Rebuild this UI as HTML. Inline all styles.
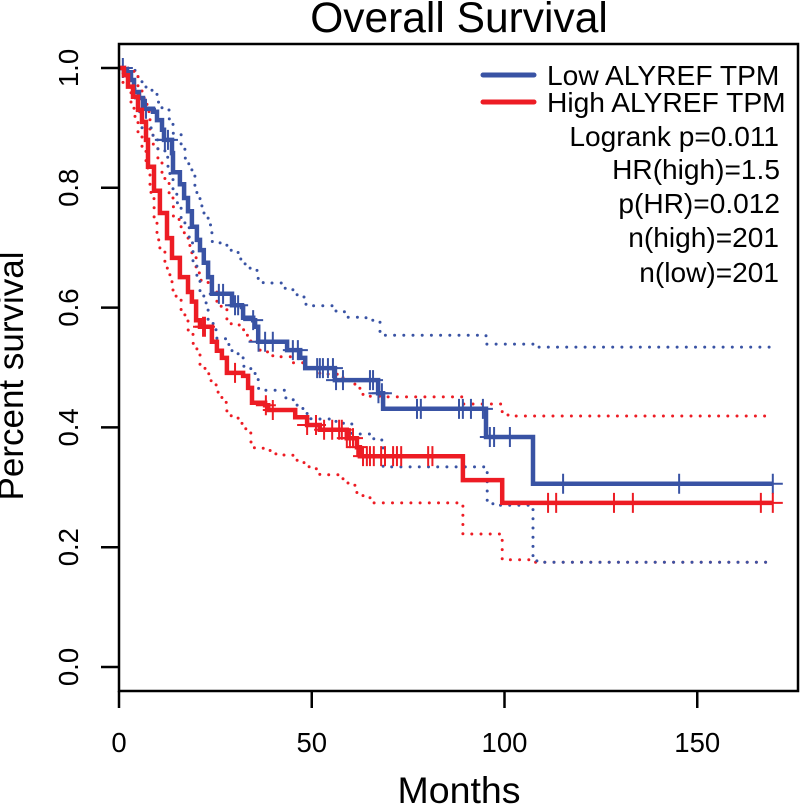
<!DOCTYPE html>
<html>
<head>
<meta charset="utf-8">
<style>
html,body{margin:0;padding:0;background:#fff;}
svg{display:block;}
text{font-family:"Liberation Sans",sans-serif;fill:#000;}
</style>
</head>
<body>
<svg id="chart" width="800" height="804" viewBox="0 0 800 804" xmlns="http://www.w3.org/2000/svg">
<rect x="0" y="0" width="800" height="804" fill="#fff"/>
<text x="459" y="32" font-size="42.5" text-anchor="middle">Overall Survival</text>
<text x="459" y="803" font-size="37.5" text-anchor="middle">Months</text>
<text transform="translate(23,376) rotate(-90)" font-size="35" text-anchor="middle">Percent survival</text>
<g id="marks"></g>
<g id="axes"></g>
<g>
<line x1="483" y1="75" x2="534" y2="75" stroke="#3953a4" stroke-width="5" stroke-linecap="round"/>
<line x1="483" y1="102" x2="534" y2="102" stroke="#ed1c24" stroke-width="5" stroke-linecap="round"/>
<text x="547" y="85" font-size="28.2">Low ALYREF TPM</text>
<text x="547" y="112" font-size="28.2">High ALYREF TPM</text>
<text x="779" y="146" font-size="28.1" text-anchor="end">Logrank p=0.011</text>
<text x="780" y="179" font-size="28.1" text-anchor="end">HR(high)=1.5</text>
<text x="780" y="213" font-size="28.1" text-anchor="end">p(HR)=0.012</text>
<text x="779" y="247" font-size="28.1" text-anchor="end">n(high)=201</text>
<text x="779" y="282" font-size="28.1" text-anchor="end">n(low)=201</text>
</g>
</svg>
<script>
const xTicks = [0, 50, 100, 150];
const yTicks = ["0.0", "0.2", "0.4", "0.6", "0.8", "1.0"];

const lowMonths = [0,1.3,2.08,3.11,3.89,5.19,6.23,8.82,9.86,11.15,11.67,13.75,14,15.8,16.9,17.9,18.9,20.2,21,22,23.1,24.1,29.3,31.9,32.2,34.8,35.3,36.1,43.6,47,48.3,56,67.2,68.5,95.2,107.4,169.6];
const lowSurvival = [1,.997,.993,.98,.96,.95,.932,.927,.913,.897,.88,.858,.826,.806,.783,.761,.735,.713,.696,.675,.651,.623,.604,.601,.583,.579,.568,.543,.529,.516,.499,.479,.457,.431,.384,.306,.306];
const lowCensor = [1,7,11.9,12.7,25.9,27,30.1,30.9,34.8,36.2,37.9,39.9,45.1,46.4,51.4,52.1,52.9,54.2,55.5,56.3,58.1,65.1,65.9,67.3,68.2,77.3,78.3,88.2,89.2,91.3,94.4,96.2,97.3,101.4,115.2,145.3,169.6];

const highMonths = [0,1.3,2.33,3.63,4.93,5.97,7,7.52,9.08,10.6,12.45,13.75,15.8,17.9,18.9,20,21,24.1,25.4,26.7,28,32.2,33.5,34.5,37.9,38.7,45.7,48.8,52.1,59.1,61.7,62.5,89.2,99.4,169.6];
const highSurvival = [1,.988,.969,.952,.93,.91,.88,.835,.795,.758,.716,.683,.651,.626,.61,.579,.568,.543,.528,.516,.491,.486,.466,.441,.437,.429,.417,.404,.396,.382,.367,.352,.312,.274,.274];
const highCensor = [21.8,22.3,30.1,38.1,39.9,48.8,51.1,53.2,55.3,57.1,57.8,59.1,59.9,60.7,61.8,63.3,64.3,65.1,66.1,68,69,71.1,72.1,73.2,80.2,81.3,111.3,113.4,128.4,133.3,166.5,169.6];

const lowUpperMonths = [0,2.85,4.15,4.93,5.97,7,8.56,9.86,10.1,11.15,12.97,13,14,16.1,17.1,17.2,17.9,18.9,19.7,20.2,21,21.5,22,23.1,24.1,24.2,26.5,28,29.1,30.9,31.6,32.7,34,35.8,36.1,37.4,42.3,43.1,45.1,46.2,48,48.5,55.5,56.3,58.6,63.8,64.9,67.7,69,95.2,107.4,169];
const lowUpperSurvival = [1,1,.993,.985,.975,.968,.963,.955,.943,.932,.928,.915,.891,.871,.863,.848,.84,.828,.803,.79,.78,.768,.758,.738,.725,.708,.708,.703,.694,.691,.681,.671,.664,.661,.648,.641,.64,.631,.628,.62,.616,.603,.603,.593,.584,.583,.579,.559,.554,.539,.534,.534];

const lowLowerMonths = [0,.78,2.33,4.15,4.93,5.97,8.82,10.1,11.9,12.7,13.2,14,15,16.1,17.1,18.2,19.2,20.2,21,22,22.6,23.1,24.4,25.4,27.8,28.5,29.3,30.9,32.2,32.4,34.2,35.3,36.1,36.2,43.1,43.3,45.4,46.2,47.7,48.8,49.8,54.2,56.3,60.4,65.1,66.1,68.5,94.9,95.5,97,106.6,107.4,108.4,169];
const lowLowerSurvival = [1,.997,.98,.947,.927,.9,.88,.863,.851,.835,.821,.798,.775,.75,.741,.708,.676,.651,.628,.618,.604,.579,.563,.548,.548,.536,.526,.523,.514,.501,.497,.489,.477,.462,.462,.446,.446,.436,.431,.421,.414,.414,.407,.389,.389,.379,.334,.334,.274,.27,.27,.182,.175,.175];

const highUpperMonths = [0,2.33,3.89,4.93,5.97,6.5,7.26,7.78,8.04,8.05,8.82,10.1,11.15,11.9,13,14,14.1,15.6,16.1,16.9,17.9,18.4,18.9,20,20.8,21.3,23.1,24.1,25.4,26.5,28,29.1,31.4,32.2,33.2,34.2,36.6,38.9,39.9,42.3,45.1,48,48.8,51.4,52.1,56.6,58.1,59.7,61.2,62.5,63.3,67.7,89.2,99.4,100.9,168];
const highUpperSurvival = [1,.998,.993,.97,.96,.95,.938,.922,.912,.896,.873,.85,.825,.815,.791,.783,.751,.745,.733,.725,.716,.703,.691,.666,.658,.644,.641,.631,.609,.601,.581,.571,.571,.563,.554,.543,.526,.526,.518,.518,.508,.508,.499,.499,.489,.487,.482,.476,.471,.462,.452,.451,.439,.424,.419,.419];

const highLowerMonths = [0,1.04,2.33,3.11,3.89,4.15,4.93,4.94,5.97,7,7.26,8.04,8.05,8.3,9.08,9.1,9.86,10.6,11.9,13.2,14,14.8,16.1,17.1,17.9,17.95,19.2,19.25,20.2,21,22.3,23.3,23.9,25.2,25.7,26.7,27.8,28,29.1,30.9,31.9,32.9,34.2,34.25,35,37.4,39.2,40.7,43.1,45.1,46.2,48,49.3,51.6,52.1,56.8,58.1,59.4,61.2,61.7,63.3,65.1,89.2,99.4,106.6,168];
const highLowerSurvival = [1,.975,.967,.942,.932,.918,.908,.893,.868,.845,.833,.82,.805,.79,.778,.75,.713,.693,.666,.643,.628,.618,.594,.586,.576,.561,.553,.539,.531,.504,.497,.489,.477,.469,.457,.447,.439,.426,.417,.414,.406,.397,.389,.374,.366,.364,.359,.354,.354,.351,.342,.339,.331,.331,.321,.319,.312,.307,.301,.29,.284,.274,.222,.179,.175,.175];

const LOW_COLOR = "#3953a4";
const HIGH_COLOR = "#ed1c24";
const NS = "http://www.w3.org/2000/svg";

function xScale(months) { return 119 + months * 3.855; }
function yScale(survival) { return 667 - survival * 599; }

function stepPath(months, survival) {
  let d = "M" + xScale(months[0]).toFixed(1) + " " + yScale(survival[0]).toFixed(1);
  for (let i = 1; i < months.length; i++) {
    d += "H" + xScale(months[i]).toFixed(1) + "V" + yScale(survival[i]).toFixed(1);
  }
  return d;
}

function levelAt(months, survival, t) {
  let level = survival[0];
  for (let i = 0; i < months.length; i++) {
    if (months[i] <= t) level = survival[i];
  }
  return level;
}

const marks = document.getElementById("marks");
const axes = document.getElementById("axes");

function drawCurve(name, months, survival, color, width, dashed) {
  const p = document.createElementNS(NS, "path");
  
  
  p.setAttribute("d", stepPath(months, survival));
  p.setAttribute("fill", "none");
  p.setAttribute("stroke", color);
  p.setAttribute("stroke-width", width);
  if (dashed) {
    p.setAttribute("stroke-dasharray", "0 9.2");
    p.setAttribute("stroke-linecap", "round");
  }
  marks.appendChild(p);
}

function drawCensors(name, times, months, survival, color) {
  times.forEach(function (t) {
    const y = yScale(levelAt(months, survival, t));
    const x = xScale(t);
    const plus = document.createElementNS(NS, "path");
    
    
    plus.setAttribute("d", "M" + x + " " + (y - 10) + "V" + (y + 10) + "M" + (x - 10) + " " + y + "H" + (x + 10));
    plus.setAttribute("fill", "none");
    plus.setAttribute("stroke", color);
    plus.setAttribute("stroke-width", 2);
    marks.appendChild(plus);
  });
}

drawCurve("low-upper-ci", lowUpperMonths, lowUpperSurvival, LOW_COLOR, 3, true);
drawCurve("high-upper-ci", highUpperMonths, highUpperSurvival, HIGH_COLOR, 3, true);
drawCurve("high-lower-ci", highLowerMonths, highLowerSurvival, HIGH_COLOR, 3, true);
drawCurve("low-lower-ci", lowLowerMonths, lowLowerSurvival, LOW_COLOR, 3, true);
drawCurve("low-survival-curve", lowMonths, lowSurvival, LOW_COLOR, 4.5, false);
drawCensors("low-censor-mark", lowCensor, lowMonths, lowSurvival, LOW_COLOR);
drawCurve("high-survival-curve", highMonths, highSurvival, HIGH_COLOR, 4.5, false);
drawCensors("high-censor-mark", highCensor, highMonths, highSurvival, HIGH_COLOR);

function axisLine(name, x1, y1, x2, y2) {
  const l = document.createElementNS(NS, "line");
  
  
  l.setAttribute("x1", x1);
  l.setAttribute("y1", y1);
  l.setAttribute("x2", x2);
  l.setAttribute("y2", y2);
  l.setAttribute("stroke", "#000");
  l.setAttribute("stroke-width", 2.5);
  axes.appendChild(l);
}

const box = document.createElementNS(NS, "rect");


box.setAttribute("x", 119);
box.setAttribute("y", 44);
box.setAttribute("width", 679);
box.setAttribute("height", 647);
box.setAttribute("fill", "none");
box.setAttribute("stroke", "#000");
box.setAttribute("stroke-width", 2.5);
axes.appendChild(box);

xTicks.forEach(function (v) {
  axisLine("x-axis-tick", xScale(v), 691, xScale(v), 708);
  const t = document.createElementNS(NS, "text");
  
  
  t.setAttribute("x", xScale(v));
  t.setAttribute("y", 752);
  t.setAttribute("font-size", 27.5);
  t.setAttribute("text-anchor", "middle");
  t.textContent = v;
  axes.appendChild(t);
});

yTicks.forEach(function (v) {
  const y = yScale(parseFloat(v));
  axisLine("y-axis-tick", 101, y, 119, y);
  const t = document.createElementNS(NS, "text");
  
  
  t.setAttribute("transform", "translate(78," + y + ") rotate(-90)");
  t.setAttribute("font-size", 27.5);
  t.setAttribute("text-anchor", "middle");
  t.textContent = v;
  axes.appendChild(t);
});
</script>
</body>
</html>
